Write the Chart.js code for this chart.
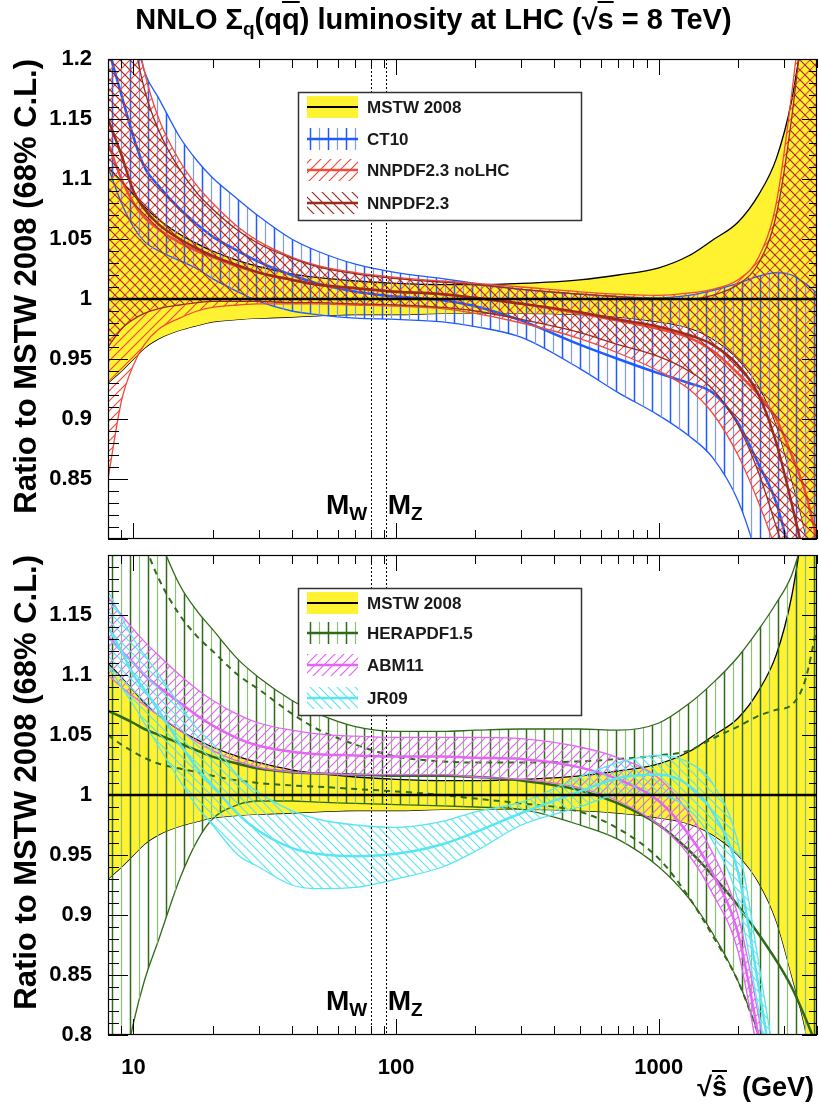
<!DOCTYPE html>
<html>
<head>
<meta charset="utf-8">
<title>NNLO luminosity ratio</title>
<script src="https://cdn.jsdelivr.net/npm/chart.js@4.4.1/dist/chart.umd.min.js"></script>
<style>
  html, body { margin: 0; padding: 0; background: #fff; }
  body { position: relative; width: 819px; height: 1111px; overflow: hidden; font-family: "Liberation Sans", Arial, sans-serif; color: #000; }
  #title { position: absolute; left: 24px; top: 0; width: 819px; line-height: 38px; text-align: center; font: bold 29px/38px "Liberation Sans", Arial, sans-serif; z-index: 2; }
  #title sub { font-size: 19px; vertical-align: -6px; line-height: 0; }
  .ov { text-decoration: overline; }
  .panel { position: absolute; left: 0; }
  #xtitle { position: absolute; right: 5px; top: 1072px; font: bold 27px "Liberation Sans", sans-serif; white-space: pre; }
</style>
</head>
<body>
<div id="title">NNLO Σ<sub>q</sub>(q<span class="ov">q</span>) luminosity at LHC (√<span class="ov">s</span> = 8 TeV)</div>
<canvas id="topPanel" class="panel" width="819" height="548" style="top:0"></canvas>
<canvas id="bottomPanel" class="panel" width="819" height="563" style="top:548px"></canvas>
<div id="xtitle">√<span class="ov">ŝ</span>  (GeV)</div>
<script>
// sqrt(s-hat) in GeV, shared by every curve
const xGrid = [8, 9, 10, 11, 12.5, 15, 17.5, 20, 25, 30, 40, 50, 70, 100, 150, 200, 300, 500, 700, 1000, 1300, 1600, 2000, 2400, 2800, 3200, 3600, 4000];

// MSTW 2008 band (ratio to itself)
const mstwUpper = [1.110, 1.098, 1.087, 1.077, 1.066, 1.054, 1.046, 1.040, 1.032, 1.027, 1.021, 1.018, 1.015, 1.013, 1.012, 1.012, 1.013, 1.016, 1.020, 1.026, 1.036, 1.049, 1.064, 1.087, 1.117, 1.165, 1.235, 1.31];
const mstwLower = [0.930, 0.940, 0.950, 0.959, 0.967, 0.974, 0.978, 0.981, 0.983, 0.984, 0.985, 0.986, 0.987, 0.987, 0.988, 0.988, 0.988, 0.987, 0.985, 0.981, 0.976, 0.967, 0.950, 0.927, 0.895, 0.850, 0.806, 0.75];
const mstwLineX = [8, 4000];
const mstwCentral = [1, 1];

// top panel
const ct10Upper = [1.34, 1.28, 1.23, 1.19, 1.167, 1.135, 1.115, 1.101, 1.083, 1.069, 1.050, 1.040, 1.029, 1.022, 1.017, 1.013, 1.008, 1.004, 1.002, 1.001, 1.003, 1.007, 1.013, 1.019, 1.022, 1.020, 1.013, 1.005];
const ct10Lower = [1.11, 1.08, 1.06, 1.048, 1.040, 1.032, 1.025, 1.017, 1.006, 0.998, 0.990, 0.987, 0.984, 0.983, 0.981, 0.977, 0.968, 0.942, 0.922, 0.903, 0.886, 0.868, 0.832, 0.78, 0.72, 0.66, 0.60, 0.55];
const ct10Central = [1.21, 1.17, 1.135, 1.11, 1.094, 1.075, 1.062, 1.052, 1.040, 1.031, 1.020, 1.013, 1.006, 1.002, 0.999, 0.994, 0.982, 0.962, 0.950, 0.938, 0.930, 0.922, 0.897, 0.862, 0.83, 0.78, 0.72, 0.66];

const noLhcUpper = [1.45, 1.33, 1.24, 1.19, 1.15, 1.115, 1.094, 1.080, 1.060, 1.048, 1.035, 1.028, 1.022, 1.018, 1.015, 1.013, 1.010, 1.006, 1.004, 1.003, 1.005, 1.008, 1.016, 1.035, 1.080, 1.170, 1.270, 1.38];
const noLhcLower = [0.85, 0.915, 0.945, 0.962, 0.975, 0.984, 0.990, 0.993, 0.995, 0.996, 0.996, 0.996, 0.995, 0.994, 0.992, 0.988, 0.980, 0.967, 0.955, 0.940, 0.925, 0.905, 0.870, 0.830, 0.790, 0.750, 0.70, 0.65];
const noLhcCentral = [1.13, 1.10, 1.08, 1.068, 1.058, 1.047, 1.040, 1.035, 1.027, 1.022, 1.016, 1.012, 1.009, 1.006, 1.004, 1.001, 0.996, 0.988, 0.982, 0.975, 0.968, 0.957, 0.938, 0.92, 0.90, 0.87, 0.84, 0.80];

const nnpdfUpper = [1.40, 1.30, 1.22, 1.175, 1.14, 1.108, 1.088, 1.075, 1.057, 1.046, 1.034, 1.027, 1.021, 1.017, 1.014, 1.012, 1.008, 1.004, 1.002, 1.000, 1.000, 1.003, 1.012, 1.030, 1.070, 1.150, 1.250, 1.35];
const nnpdfLower = [0.96, 0.975, 0.983, 0.988, 0.992, 0.995, 0.997, 0.998, 0.998, 0.998, 0.997, 0.997, 0.996, 0.995, 0.993, 0.990, 0.983, 0.972, 0.962, 0.952, 0.940, 0.925, 0.895, 0.855, 0.810, 0.770, 0.72, 0.67];
const nnpdfCentral = [1.15, 1.12, 1.09, 1.075, 1.062, 1.050, 1.042, 1.036, 1.028, 1.022, 1.016, 1.012, 1.009, 1.006, 1.004, 1.001, 0.996, 0.989, 0.983, 0.977, 0.970, 0.962, 0.945, 0.92, 0.88, 0.83, 0.78, 0.72];

// bottom panel
const heraUpper = [1.42, 1.34, 1.29, 1.25, 1.215, 1.175, 1.153, 1.138, 1.113, 1.098, 1.079, 1.068, 1.057, 1.053, 1.053, 1.054, 1.055, 1.055, 1.054, 1.060, 1.076, 1.093, 1.115, 1.138, 1.160, 1.183, 1.22, 1.26];
const heraLower = [0.70, 0.76, 0.81, 0.845, 0.88, 0.93, 0.962, 0.980, 0.992, 0.995, 0.995, 0.994, 0.993, 0.992, 0.991, 0.990, 0.988, 0.975, 0.963, 0.940, 0.914, 0.885, 0.845, 0.80, 0.75, 0.70, 0.65, 0.60];
const heraDashUpper = [1.33, 1.28, 1.24, 1.21, 1.18, 1.15, 1.132, 1.12, 1.10, 1.088, 1.068, 1.055, 1.042, 1.032, 1.028, 1.027, 1.027, 1.028, 1.030, 1.033, 1.037, 1.047, 1.057, 1.066, 1.071, 1.075, 1.095, 1.14];
const heraDashLower = [1.05, 1.042, 1.036, 1.031, 1.026, 1.022, 1.019, 1.016, 1.012, 1.010, 1.008, 1.007, 1.005, 1.003, 1.000, 0.997, 0.993, 0.986, 0.972, 0.947, 0.915, 0.883, 0.845, 0.80, 0.76, 0.72, 0.68, 0.64];
const heraCentral = [1.07, 1.065, 1.06, 1.055, 1.05, 1.043, 1.037, 1.032, 1.026, 1.022, 1.019, 1.018, 1.017, 1.016, 1.016, 1.015, 1.012, 1.004, 0.993, 0.975, 0.954, 0.933, 0.908, 0.884, 0.862, 0.84, 0.815, 0.79];

const abmUpper = [1.165, 1.15, 1.138, 1.128, 1.116, 1.10, 1.088, 1.079, 1.067, 1.060, 1.054, 1.051, 1.049, 1.048, 1.048, 1.048, 1.047, 1.040, 1.031, 1.014, 0.985, 0.952, 0.90, 0.815, 0.73, 0.65, 0.60, 0.55];
const abmLower = [1.10, 1.09, 1.082, 1.075, 1.066, 1.054, 1.044, 1.037, 1.028, 1.023, 1.019, 1.018, 1.017, 1.017, 1.017, 1.015, 1.013, 1.006, 0.995, 0.975, 0.950, 0.918, 0.87, 0.78, 0.70, 0.62, 0.57, 0.52];
const abmCentral = [1.132, 1.12, 1.11, 1.10, 1.09, 1.077, 1.066, 1.058, 1.047, 1.041, 1.036, 1.034, 1.033, 1.032, 1.032, 1.031, 1.030, 1.023, 1.013, 0.995, 0.967, 0.935, 0.885, 0.798, 0.715, 0.635, 0.585, 0.535];

const jrUpper = [1.17, 1.148, 1.13, 1.117, 1.10, 1.075, 1.055, 1.043, 1.016, 1.002, 0.987, 0.98, 0.975, 0.973, 0.978, 0.986, 0.994, 1.015, 1.027, 1.033, 1.027, 1.01, 0.96, 0.86, 0.77, 0.70, 0.64, 0.58];
const jrLower = [1.108, 1.09, 1.075, 1.06, 1.04, 1.012, 0.99, 0.975, 0.95, 0.94, 0.925, 0.922, 0.923, 0.93, 0.94, 0.953, 0.975, 0.99, 1.0, 1.0, 0.988, 0.962, 0.912, 0.82, 0.73, 0.66, 0.60, 0.54];
const jrCentral = [1.14, 1.12, 1.10, 1.088, 1.07, 1.043, 1.022, 1.008, 0.984, 0.97, 0.956, 0.951, 0.949, 0.951, 0.959, 0.969, 0.985, 1.003, 1.014, 1.017, 1.008, 0.986, 0.936, 0.84, 0.75, 0.68, 0.62, 0.56];

// axes
const yTicksTop = [0.85, 0.9, 0.95, 1, 1.05, 1.1, 1.15, 1.2];
const yTicksBottom = [0.8, 0.85, 0.9, 0.95, 1, 1.05, 1.1, 1.15];
const xTicks = [10, 100, 1000];
const massW = 80.4, massZ = 91.2;

const FONT = '"Liberation Sans", Arial, sans-serif';
const YELLOW = '#fff230';
const BLUE = '#1f5bff', RED = '#f04b3a', DARKRED = '#9b2b1d';
const GREEN = '#2f6b17', LIGHTGREEN = '#8cbf78', MAGENTA = '#e366f4', CYAN = '#5ae6f0';

// hatch fill patterns, ROOT style
function hatch(kind, color, gap, lw, color2) {
  const c = document.createElement('canvas');
  c.width = kind === 'vv' ? gap * 2 : gap;
  c.height = gap;
  const g = c.getContext('2d');
  g.strokeStyle = color;
  g.lineWidth = lw;
  g.beginPath();
  if (kind === 'vv') {
    g.moveTo(gap / 2, 0); g.lineTo(gap / 2, gap);
    g.stroke();
    g.strokeStyle = color2; g.lineWidth = lw * 0.8;
    g.beginPath();
    g.moveTo(gap * 1.5, 0); g.lineTo(gap * 1.5, gap);
  } else if (kind === '/') {
    g.moveTo(-1, gap + 1); g.lineTo(gap + 1, -1);
    g.moveTo(-1, 1); g.lineTo(1, -1);
    g.moveTo(gap - 1, gap + 1); g.lineTo(gap + 1, gap - 1);
  } else {
    g.moveTo(-1, -1); g.lineTo(gap + 1, gap + 1);
    g.moveTo(gap - 1, -1); g.lineTo(gap + 1, 1);
    g.moveTo(-1, gap - 1); g.lineTo(1, gap + 1);
  }
  g.stroke();
  return g.createPattern(c, 'repeat');
}

const patCT10 = hatch('vv', BLUE, 9, 1.5, '#7d9bff');
const patNoLhc = hatch('/', RED, 10, 1.2);
const patNnpdf = hatch('\\', DARKRED, 10, 1.2);
const patHera = hatch('vv', GREEN, 9, 1.5, LIGHTGREEN);
const patAbm = hatch('/', MAGENTA, 9, 1.2);
const patJr = hatch('\\', CYAN, 9, 1.2);

function pts(ys, xs) {
  xs = xs || xGrid;
  return xs.map((x, i) => ({ x: x, y: ys[i] }));
}

// upper edge fills down to the lower edge (next dataset)
function band(label, upper, lower, edge, bg, order) {
  return [
    { label: label, data: pts(upper), borderColor: edge, borderWidth: 1.3, backgroundColor: bg, fill: '+1', order: order },
    { label: label + ' low', data: pts(lower), borderColor: edge, borderWidth: 1.3, fill: false, order: order }
  ];
}

function curve(label, ys, color, width, order, dash, xs) {
  return { label: label, data: pts(ys, xs), borderColor: color, borderWidth: width, borderDash: dash || [], fill: false, order: order };
}

function seg(ctx, x1, y1, x2, y2) {
  ctx.beginPath(); ctx.moveTo(x1, y1); ctx.lineTo(x2, y2); ctx.stroke();
}

function drawLegend(ctx, lg) {
  const [x1, y1, x2, y2] = lg.box;
  ctx.fillStyle = '#fff';
  ctx.fillRect(x1, y1, x2 - x1, y2 - y1);
  ctx.strokeStyle = '#333'; ctx.lineWidth = 1.5;
  ctx.strokeRect(x1 + 0.5, y1 + 0.5, x2 - x1, y2 - y1);
  lg.entries.forEach((e, i) => {
    const cy = lg.rows[i], sx = x1 + 9, sw = 51, sh = 22;
    if (e.solid) { ctx.fillStyle = e.solid; ctx.fillRect(sx, cy - sh / 2, sw, sh); }
    if (e.pattern) { ctx.fillStyle = e.pattern; ctx.fillRect(sx, cy - sh / 2, sw, sh); }
    ctx.strokeStyle = e.line; ctx.lineWidth = e.lw;
    seg(ctx, sx, cy, sx + sw, cy);
    ctx.fillStyle = '#1a1a1a';
    ctx.font = 'bold 17px ' + FONT;
    ctx.textBaseline = 'middle';
    ctx.textAlign = 'left';
    ctx.fillText(e.label, x1 + 69, cy + 1);
  });
}

function framePlugin(legend) {
  return {
    id: 'rootFrame',
    afterDatasetsDraw(chart) {
      const ctx = chart.ctx, a = chart.chartArea, xs = chart.scales.x, ys = chart.scales.y;
      ctx.save();
      // W and Z mass lines
      ctx.strokeStyle = '#000'; ctx.lineWidth = 1; ctx.setLineDash([2, 2]);
      [massW, massZ].forEach(m => {
        const px = Math.round(xs.getPixelForValue(m)) + 0.5;
        seg(ctx, px, a.top, px, a.bottom);
      });
      ctx.setLineDash([]);
      // inward ticks on all four sides
      ctx.lineWidth = 1;
      for (let k = 80; k <= 120; k++) {
        const py = Math.round(ys.getPixelForValue(k / 100)) + 0.5, major = k % 5 === 0;
        seg(ctx, a.left, py, a.left + (major ? 20 : 11), py);
        seg(ctx, a.right, py, a.right - (major ? 15 : 8), py);
      }
      [1, 10, 100, 1000].forEach(d => {
        for (let m = 1; m <= 9; m++) {
          const v = m * d;
          if (v < xs.min || v > xs.max) continue;
          const px = Math.round(xs.getPixelForValue(v)) + 0.5, len = m === 1 ? 16 : 9;
          seg(ctx, px, a.bottom, px, a.bottom - len);
          seg(ctx, px, a.top, px, a.top + len);
        }
      });
      ctx.lineWidth = 1.2;
      ctx.strokeRect(a.left + 0.5, a.top + 0.5, a.right - a.left - 1, a.bottom - a.top - 1);
      // M_W and M_Z labels
      const xw = xs.getPixelForValue(massW), xz = xs.getPixelForValue(massZ), yb = a.bottom - 25;
      const big = 'bold 28px ' + FONT, small = 'bold 19px ' + FONT;
      ctx.fillStyle = '#000'; ctx.textBaseline = 'alphabetic'; ctx.textAlign = 'left';
      ctx.font = small; const wW = ctx.measureText('W').width;
      ctx.font = big; const wM = ctx.measureText('M').width;
      ctx.fillText('M', xw - 4 - wW - wM, yb);
      ctx.fillText('M', xz + 2, yb);
      ctx.font = small;
      ctx.fillText('W', xw - 4 - wW, yb + 6);
      ctx.fillText('Z', xz + 2 + wM, yb + 6);
      drawLegend(ctx, legend);
      ctx.restore();
    }
  };
}

function makePanel(id, datasets, legend, yTicks, showX, pad) {
  return new Chart(document.getElementById(id), {
    type: 'line',
    data: { datasets: datasets },
    options: {
      responsive: false,
      animation: false,
      devicePixelRatio: 1,
      layout: { padding: pad },
      datasets: { line: { pointRadius: 0, cubicInterpolationMode: 'monotone', clip: 0 } },
      scales: {
        x: {
          type: 'logarithmic', min: 8, max: 4000, display: showX,
          grid: { display: false }, border: { display: false },
          ticks: { color: '#000', font: { family: FONT, size: 22, weight: 'bold' }, padding: 12, autoSkip: false, maxRotation: 0, callback: v => String(v) },
          afterBuildTicks: s => { s.ticks = xTicks.map(v => ({ value: v })); },
          afterFit: s => { s.height = showX ? 45 : 0; s.paddingLeft = 0; s.paddingRight = 0; }
        },
        y: {
          min: 0.8, max: 1.2,
          grid: { display: false }, border: { display: false },
          ticks: { color: '#000', font: { family: FONT, size: 22, weight: 'bold' }, padding: 8, autoSkip: false, callback: v => String(v) },
          afterBuildTicks: s => { s.ticks = yTicks.map(v => ({ value: v })); },
          afterFit: s => { s.width = 108; s.paddingTop = 0; s.paddingBottom = 0; },
          title: { display: true, align: 'end', text: 'Ratio to MSTW 2008 (68% C.L.)', color: '#000', font: { family: FONT, size: 31, weight: 'bold' }, padding: { top: 9, bottom: 0 } }
        }
      },
      plugins: { legend: { display: false }, tooltip: { enabled: false }, filler: { propagate: false } }
    },
    plugins: [framePlugin(legend)]
  });
}

const mstwBand = () => band('MSTW 2008', mstwUpper, mstwLower, '#000', YELLOW, 50);
const mstwLine = () => curve('MSTW 2008 central', mstwCentral, '#000', 2.5, 0, null, mstwLineX);

makePanel('topPanel', [].concat(
  mstwBand(),
  band('CT10', ct10Upper, ct10Lower, BLUE, patCT10, 40),
  [curve('CT10 central', ct10Central, BLUE, 2.5, 39)],
  band('NNPDF2.3 noLHC', noLhcUpper, noLhcLower, RED, patNoLhc, 30),
  [curve('NNPDF2.3 noLHC central', noLhcCentral, RED, 2.5, 29)],
  band('NNPDF2.3', nnpdfUpper, nnpdfLower, DARKRED, patNnpdf, 20),
  [curve('NNPDF2.3 central', nnpdfCentral, DARKRED, 2.5, 19)],
  [mstwLine()]
), {
  box: [298, 92, 581, 220], rows: [107, 139, 170, 203],
  entries: [
    { label: 'MSTW 2008', solid: YELLOW, line: '#000', lw: 2 },
    { label: 'CT10', pattern: patCT10, line: BLUE, lw: 2.5 },
    { label: 'NNPDF2.3 noLHC', pattern: patNoLhc, line: RED, lw: 2.5 },
    { label: 'NNPDF2.3', pattern: patNnpdf, line: DARKRED, lw: 2.5 }
  ]
}, yTicksTop, false, { top: 59, right: 2, bottom: 9, left: 0 });

makePanel('bottomPanel', [].concat(
  mstwBand(),
  band('HERAPDF1.5', heraUpper, heraLower, GREEN, patHera, 40),
  [curve('HERAPDF1.5 dashed up', heraDashUpper, GREEN, 2, 39, [6, 5]),
   curve('HERAPDF1.5 dashed low', heraDashLower, GREEN, 2, 39, [6, 5]),
   curve('HERAPDF1.5 central', heraCentral, GREEN, 2.5, 38)],
  band('ABM11', abmUpper, abmLower, MAGENTA, patAbm, 30),
  [curve('ABM11 central', abmCentral, MAGENTA, 2.5, 29)],
  band('JR09', jrUpper, jrLower, CYAN, patJr, 20),
  [curve('JR09 central', jrCentral, CYAN, 2.5, 19)],
  [mstwLine()]
), {
  box: [298, 40, 581, 167], rows: [55, 85, 117, 150],
  entries: [
    { label: 'MSTW 2008', solid: YELLOW, line: '#000', lw: 2 },
    { label: 'HERAPDF1.5', pattern: patHera, line: GREEN, lw: 2.5 },
    { label: 'ABM11', pattern: patAbm, line: MAGENTA, lw: 2.5 },
    { label: 'JR09', pattern: patJr, line: CYAN, lw: 2.5 }
  ]
}, yTicksBottom, true, { top: 7, right: 2, bottom: 31, left: 0 });
</script>
</body>
</html>
